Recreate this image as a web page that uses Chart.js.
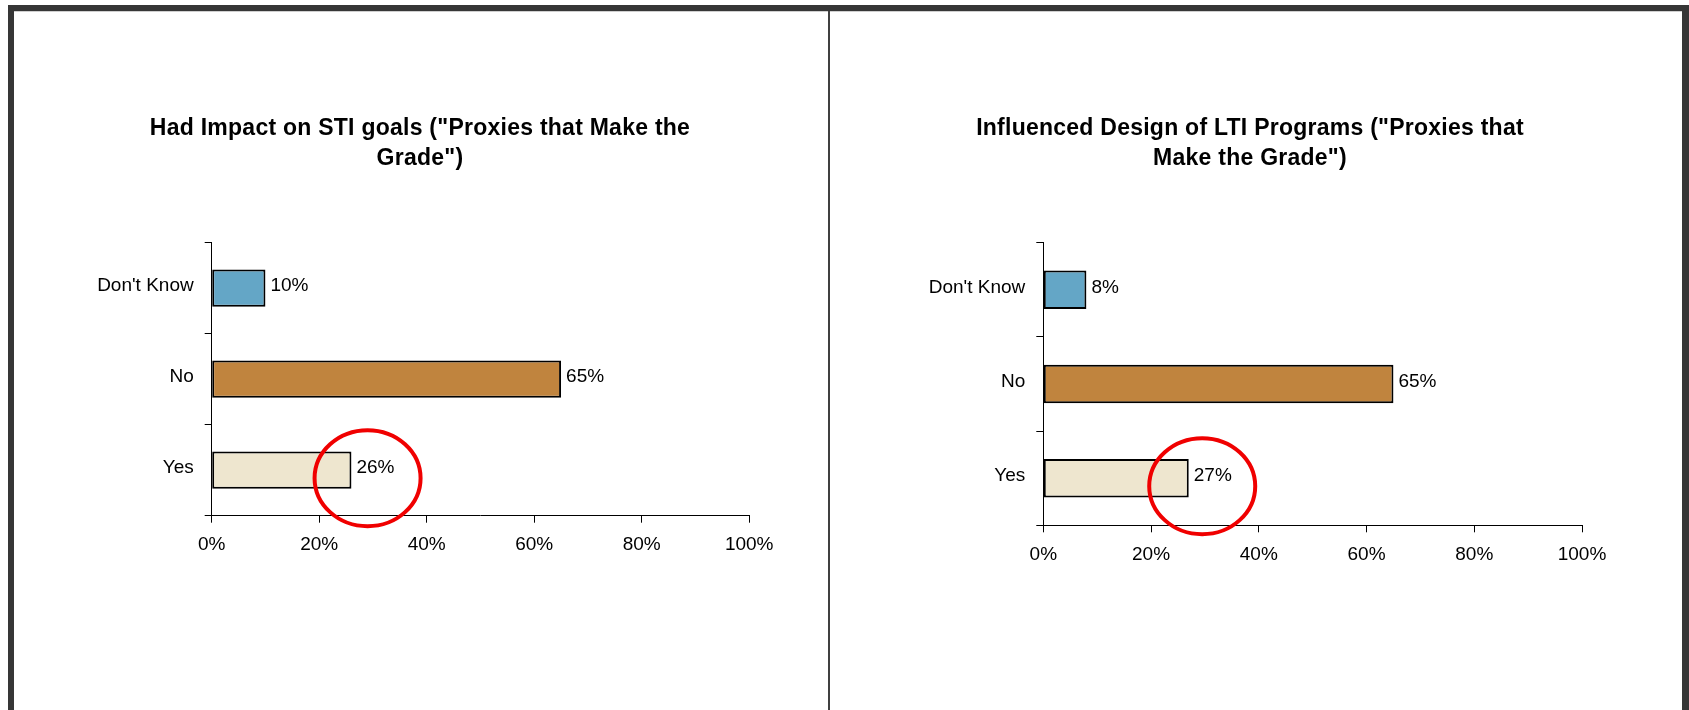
<!DOCTYPE html>
<html>
<head>
<meta charset="utf-8">
<script src="https://cdn.jsdelivr.net/npm/chart.js@4.4.0/dist/chart.umd.min.js"></script>
<style>
  html, body { margin: 0; padding: 0; background: #fff; }
  body { position: relative; width: 1689px; height: 710px; overflow: hidden; }
  canvas { position: absolute; top: 0; }
  #sti { left: 0; }
  #lti { left: 829px; }
  .frame { position: absolute; background: #363636; }
</style>
</head>
<body>
<canvas id="sti" width="829" height="710"></canvas>
<canvas id="lti" width="860" height="710"></canvas>

<div class="frame" style="left:8px; top:5px; width:1681px; height:6px;"></div>
<div class="frame" style="left:14px; top:11px; width:1668px; height:1px; background:#cfcfcf;"></div>
<div class="frame" style="left:8px; top:5px; width:6px; height:705px;"></div>
<div class="frame" style="left:1682px; top:5px; width:7px; height:705px;"></div>
<div class="frame" style="left:828px; top:11px; width:2px; height:699px; background:#404040;"></div>

<script>
// Survey answers, shares of respondents
const categories = ["Don't Know", "No", "Yes"];
const stiValues = [0.10, 0.65, 0.26];
const ltiValues = [0.08, 0.65, 0.27];
const barColors = ['#64A6C6', '#C0843E', '#EEE6CF'];
const axisTicks = [0, 0.2, 0.4, 0.6, 0.8, 1];
const stiTitle = ['Had Impact on STI goals ("Proxies that Make the', 'Grade")'];
const ltiTitle = ['Influenced Design of LTI Programs ("Proxies that', 'Make the Grade")'];

const FONT = '"Liberation Sans", Arial, Helvetica, sans-serif';
const pct = v => Math.round(v * 100) + '%';

// Two-line bold heading centred over each panel
const headingPlugin = {
  id: 'heading',
  afterDraw(chart, args, opts) {
    const ctx = chart.ctx;
    ctx.save();
    ctx.font = 'bold 23px ' + FONT;
    if ('letterSpacing' in ctx) ctx.letterSpacing = '0.25px';
    ctx.fillStyle = '#000';
    ctx.textAlign = 'center';
    ctx.textBaseline = 'alphabetic';
    opts.lines.forEach((line, i) => {
      ctx.fillText(line, opts.centerX, opts.baseline + i * opts.lineGap);
    });
    ctx.restore();
  }
};

// Percentage printed just past the end of each bar
const valueLabelPlugin = {
  id: 'valueLabels',
  afterDatasetsDraw(chart) {
    const ctx = chart.ctx;
    const meta = chart.getDatasetMeta(0);
    const data = chart.data.datasets[0].data;
    ctx.save();
    ctx.font = '19px ' + FONT;
    ctx.fillStyle = '#000';
    ctx.textAlign = 'left';
    ctx.textBaseline = 'middle';
    meta.data.forEach((bar, i) => {
      ctx.fillText(pct(data[i]), bar.x + 5, bar.y - 2.5);
    });
    ctx.restore();
  }
};

// Red hand-drawn style ellipse highlighting the "Yes" answer
const highlightPlugin = {
  id: 'highlight',
  afterDraw(chart, args, opts) {
    const {x, y} = chart.scales;
    const ctx = chart.ctx;
    const cx = x.getPixelForValue(opts.value);
    const cy = y.getPixelForValue(opts.index) + opts.dy;
    ctx.save();
    ctx.beginPath();
    ctx.ellipse(cx, cy, opts.rx, opts.ry, 0, 0, Math.PI * 2);
    ctx.lineWidth = 4;
    ctx.strokeStyle = '#F00000';
    ctx.stroke();
    ctx.restore();
  }
};

function makeChart(id, values, title, geom) {
  return new Chart(document.getElementById(id), {
    type: 'bar',
    data: {
      labels: categories,
      datasets: [{
        data: values,
        backgroundColor: barColors,
        borderColor: '#000',
        borderWidth: 2,
        borderSkipped: false,
        categoryPercentage: 1,
        barPercentage: 0.41
      }]
    },
    options: {
      indexAxis: 'y',
      responsive: false,
      animation: false,
      devicePixelRatio: 1,
      layout: { padding: { left: 0, top: geom.top, right: geom.right, bottom: geom.bottom } },
      scales: {
        x: {
          min: 0,
          max: 1,
          afterBuildTicks(s) { s.ticks = axisTicks.map(v => ({ value: v })); },
          afterFit(s) { s.height = 60; },
          grid: { drawOnChartArea: false, drawTicks: true, tickLength: 7, color: '#000', lineWidth: 1 },
          border: { display: true, color: '#000', width: 1 },
          ticks: {
            callback: v => pct(v),
            color: '#000',
            padding: 11,
            maxRotation: 0,
            font: { family: FONT, size: 19 }
          }
        },
        y: {
          afterFit(s) { s.width = geom.axisWidth; },
          grid: { drawOnChartArea: false, drawTicks: true, tickLength: 7, color: '#000', lineWidth: 1, offset: true },
          border: { display: true, color: '#000', width: 1 },
          ticks: {
            color: '#000',
            padding: 11,
            labelOffset: -2.5,
            font: { family: FONT, size: 19 }
          }
        }
      },
      plugins: {
        legend: { display: false },
        title: { display: false },
        tooltip: { enabled: false },
        heading: { lines: title, centerX: geom.titleX, baseline: 134.5, lineGap: 30 },
        highlight: { value: geom.ringValue, index: 2, dy: 8, rx: 53, ry: 48 }
      }
    },
    plugins: [headingPlugin, valueLabelPlugin, highlightPlugin]
  });
}

makeChart('sti', stiValues, stiTitle, {
  axisWidth: 211.7, top: 242.7, right: 79.8, bottom: 710 - 515.7 - 60,
  titleX: 420, ringValue: 0.29
});

makeChart('lti', ltiValues, ltiTitle, {
  axisWidth: 214.3, top: 242.7, right: 107, bottom: 710 - 525.3 - 60,
  titleX: 421, ringValue: 0.295
});
</script>
</body>
</html>
